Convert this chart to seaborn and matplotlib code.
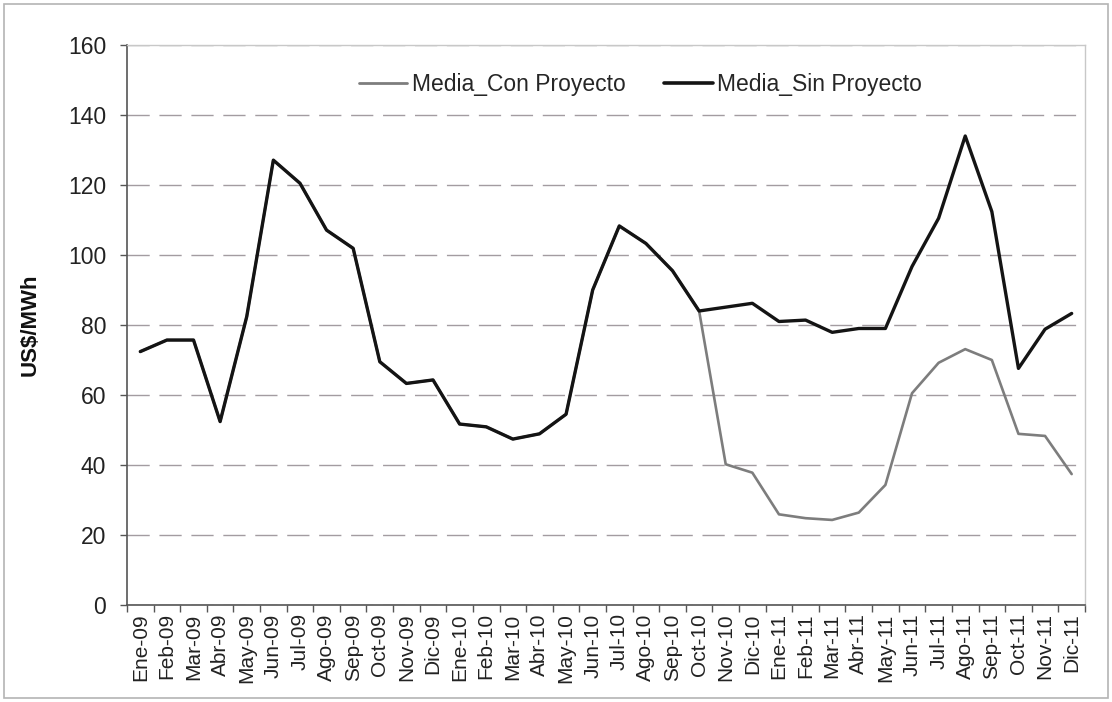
import matplotlib
matplotlib.use("Agg")
import matplotlib.pyplot as plt
from matplotlib.patches import Rectangle
from matplotlib.ticker import FixedLocator, NullFormatter
import numpy as np
import pandas as pd
import seaborn as sns

meses = ["Ene", "Feb", "Mar", "Abr", "May", "Jun",
         "Jul", "Ago", "Sep", "Oct", "Nov", "Dic"]
anios = ["09", "10", "11"]
periodos = [f"{m}-{a}" for a in anios for m in meses]

media_sin_proyecto = [
    72.4, 75.7, 75.7, 52.4, 82.4, 127.1, 120.5, 107.1, 101.9, 69.5, 63.3, 64.3,
    51.7, 50.9, 47.4, 48.9, 54.5, 90.0, 108.3, 103.3, 95.5, 84.0, 85.1, 86.2,
    81.0, 81.4, 77.9, 79.0, 79.0, 96.7, 110.5, 134.0, 112.4, 67.6, 78.8, 83.3,
]
media_con_proyecto = [
    72.4, 75.7, 75.7, 52.4, 82.4, 127.1, 120.5, 107.1, 101.9, 69.5, 63.3, 64.3,
    51.7, 50.9, 47.4, 48.9, 54.5, 90.0, 108.3, 103.3, 95.5, 84.0, 40.2, 37.8,
    25.9, 24.8, 24.3, 26.4, 34.3, 60.5, 69.2, 73.1, 70.0, 48.9, 48.3, 37.4,
]
series = ["Media_Con Proyecto", "Media_Sin Proyecto"]
colores = ["#7d7d7d", "#141414"]
y_ticks = [0, 20, 40, 60, 80, 100, 120, 140, 160]

idx = np.arange(len(periodos))
df = pd.concat([
    pd.DataFrame({"periodo": idx, "valor": media_con_proyecto, "serie": series[0]}),
    pd.DataFrame({"periodo": idx, "valor": media_sin_proyecto, "serie": series[1]}),
])

sns.set_theme(style="white")
plt.rcParams["font.family"] = ["Liberation Sans", "DejaVu Sans"]

fig = plt.figure(figsize=(11.12, 7.02), dpi=100)
fig.patch.set_facecolor("white")
ax = fig.add_axes([0.1142, 0.1382, 0.8615, 0.7977])

sns.lineplot(data=df, x="periodo", y="valor", hue="serie", hue_order=series,
             palette=colores, ax=ax, legend=False)
ax.lines[0].set_linewidth(1.9)
ax.lines[1].set_linewidth(2.4)

ax.set_xlim(-0.5, len(periodos) - 0.5)
ax.set_ylim(0, 160)
ax.set_yticks(y_ticks)
ax.set_xticks(idx)
ax.set_xticklabels(periodos, rotation=90, fontsize=15, color="#222222")
ax.xaxis.set_minor_locator(FixedLocator(np.arange(-0.5, len(periodos), 1.0)))
ax.xaxis.set_minor_formatter(NullFormatter())
ax.tick_params(axis="x", which="major", length=0, pad=6)
ax.tick_params(axis="x", which="minor", length=5, width=1, color="#555555",
               direction="out", bottom=True)
ax.tick_params(axis="y", which="major", length=5, width=1, color="#555555",
               direction="out", left=True, labelsize=16.5, labelcolor="#222222", pad=10)

ax.set_xlabel("")
ax.set_ylabel("US$/MWh", fontsize=16, fontweight="bold", color="#111111", labelpad=20)

ax.yaxis.grid(True, color="#a39ca1", linewidth=1.0, linestyle=(0, (16, 7)))
ax.xaxis.grid(False)
ax.set_axisbelow(True)

for lado in ["left", "bottom"]:
    ax.spines[lado].set_color("#555555")
    ax.spines[lado].set_linewidth(1.2)
for lado in ["top", "right"]:
    ax.spines[lado].set_color("#c8c8c8")
    ax.spines[lado].set_linewidth(1.0)

handles = [plt.Line2D([], [], color=colores[0], linewidth=2.0),
           plt.Line2D([], [], color=colores[1], linewidth=2.6)]
fig.legend(handles, series, loc="center", bbox_to_anchor=(0.576, 0.879),
           ncol=2, frameon=False, fontsize=16.5, handlelength=2.1,
           handletextpad=0.2, columnspacing=1.7)

fig.patches.append(Rectangle((0.004, 0.005), 0.992, 0.99, transform=fig.transFigure,
                             fill=False, edgecolor="#b4b4b4", linewidth=1.2))

fig.savefig("out.png", dpi=100, facecolor="white")
